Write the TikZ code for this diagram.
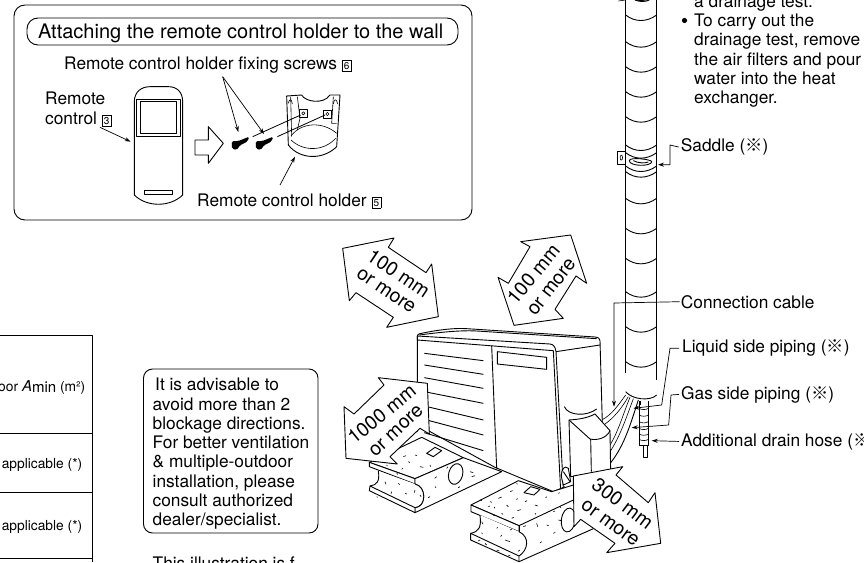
\documentclass[tikz,border=0pt]{standalone}
\usepackage{fontspec}
\setmainfont{TeX Gyre Heros}
\newfontfamily\cjkf{Noto Sans CJK JP}
\usetikzlibrary{arrows.meta}
\newcommand{\komeji}{{\cjkf ※}}
\newcommand{\boxnum}[1]{{\setlength{\fboxsep}{1.7pt}\setlength{\fboxrule}{0.4pt}\fbox{\fontsize{10}{10}\selectfont #1}}}
\tikzset{
  zm/.style 2 args={shift={(#1,#2)},x=0.33333pt,y=-0.33333pt},
  ln/.style={line width=0.9pt,black,line join=round},
  thin ln/.style={line width=0.6pt,black,line join=round},
  wfill/.style={ln,fill=white},
  lead/.style={line width=0.7pt,black,-{Stealth[length=6pt,width=4pt]}},
  lbl/.style={anchor=base west,inner sep=0pt,font=\fontsize{17.3}{19}\selectfont},
  big/.style={font=\fontsize{20}{21}\selectfont,anchor=base west,inner sep=0pt},
  tbl/.style={anchor=base east,inner sep=0pt,font=\fontsize{13.8}{15}\selectfont},
  clr/.style={inner sep=0pt,font=\fontsize{19.5}{20}\selectfont},
  box/.style={ln,rounded corners=#1},
  speck/.style={line width=0.6pt,black},
}
\begin{document}
\begin{tikzpicture}[x=1pt,y=-1pt]
\clip (0,0) rectangle (864,562);
\fill[white] (0,0) rectangle (864,562);

% ---- remote holder panel
\draw[box=11pt] (14,5) rectangle (472,220);
\draw[box=11pt] (27,18) rectangle (458,45);
\node[big] (title) at (38,38) {Attaching the remote control holder to the wall};
\node[lbl] (screwslbl) at (64,69) {Remote control holder fixing screws \boxnum{6}};
\node[lbl] (remlbl) at (45,104) {Remote};
\node[lbl] (remlblb) at (45,124) {control \boxnum{3}};
\node[lbl] (holdlbl) at (197,206) {Remote control holder \boxnum{5}};
\begin{scope}[zm={0}{0}]
  \draw[ln] (403,585) -- (403,305) .. controls (403,275) and (425,260) .. (450,260) -- (505,260) .. controls (530,260) and (548,275) .. (548,305) -- (548,585) .. controls (510,622) and (440,622) .. (403,585) -- cycle;
  \draw[ln] (410,297) rectangle (540,410);
  \draw[ln] (420,305) rectangle (530,400);
  \draw[thin ln] (433,570) rectangle (518,582);
  \draw[ln] (585,420) -- (625,420) -- (625,380) -- (670,430) -- (625,490) -- (625,465) -- (585,465) -- cycle;
  \coordinate (remA) at (300,382); \coordinate (remB) at (392,425);
  \coordinate (scrA) at (668,230); \coordinate (scrB) at (715,396); \coordinate (scrC) at (792,402);
  \coordinate (hA) at (840,555); \coordinate (hB) at (885,470);
  \draw[lead] (remA) -- (remB);
  \draw[lead] (scrA) -- (scrB);
  \draw[lead] (scrA) -- (scrC);
  \draw[lead] (hA) -- (hB);
\end{scope}
\begin{scope}[zm={190}{80}]
  % screws
  \fill[rounded corners=1.5pt] (125,184) -- (145,183) -- (178,170) -- (172,185) -- (150,196) -- (140,210) -- (126,206) -- cycle;
  \fill[rounded corners=1.5pt] (197,184) -- (217,183) -- (250,170) -- (244,185) -- (222,196) -- (212,210) -- (198,206) -- cycle;
  % holder
  \draw[ln] (295,195) -- (290,48) -- (335,45) .. controls (345,65) and (400,75) .. (420,45) -- (450,45) -- (440,200) .. controls (400,240) and (330,240) .. (295,195) -- cycle;
  \draw[thin ln] (303,180) .. controls (340,215) and (400,215) .. (437,175);
  \draw[thin ln] (303,168) .. controls (335,125) and (400,125) .. (440,160);
  \draw[thin ln] (302,50) -- (305,170);
  \draw[thin ln] (322,50) -- (330,115) -- (322,150);
  \draw[thin ln] (430,50) -- (425,130) -- (440,130);
  \draw[thin ln] (295,70) .. controls (298,55) and (305,55) .. (307,72);
  \draw[thin ln] (430,72) .. controls (432,55) and (440,55) .. (443,72);
  \draw[thin ln] (328,88) rectangle (352,112);
  \draw[thin ln] (400,90) rectangle (425,115);
  \draw[thin ln] (340,100) circle (1.6pt);
  \draw[thin ln] (412,102) circle (1.6pt);
  \coordinate (s1a) at (188,170); \coordinate (s1b) at (332,105);
  \coordinate (s2a) at (262,170); \coordinate (s2b) at (405,105);
  \draw[line width=0.8pt] (s1a) -- (s1b);
  \draw[line width=0.8pt] (s2a) -- (s2b);
\end{scope}

% ---- pipe
\begin{scope}[zm={590}{0}]
  \draw[thin ln] (107,0) -- (85,3);
  \draw[ln] (107,0) -- (107,1120);
  \draw[ln] (200,0) -- (200,1140);
  \foreach \y in {-15,45,125,200,275,350,435,458,498,515,595,685,775}
    \draw[ln] (107,\y) .. controls (135,\y+22) and (170,\y+22) .. (200,\y);
  \draw[ln] (135,0) .. controls (150,6) and (165,6) .. (178,0);
  \draw[ln] (82,453) rectangle (107,493);
  \draw[thin ln] (94,473) ellipse (1.2pt and 2.5pt);
  \draw[ln] (118,482) .. controls (118,470) and (185,478) .. (185,485) .. controls (185,500) and (118,500) .. (118,482) -- cycle;
  \draw[ln] (130,482) .. controls (145,490) and (165,490) .. (175,486);
\end{scope}
\begin{scope}[zm={590}{280}]
  \foreach \y in {35,140,245}
    \draw[ln] (107,\y) .. controls (135,\y+22) and (170,\y+22) .. (200,\y);
  \draw[ln] (107,335) .. controls (125,358) and (180,365) .. (200,345);
  % bundle of pipes
  \draw[thin ln] (107,345) .. controls (85,375) and (65,405) .. (35,420);
  \draw[thin ln] (115,350) .. controls (95,385) and (70,415) .. (45,432);
  \draw[thin ln] (120,352) .. controls (100,400) and (85,455) .. (60,495);
  \draw[thin ln] (130,356) .. controls (110,410) and (90,470) .. (60,515);
  \draw[ln] (145,360) .. controls (125,420) and (105,495) .. (62,548);
  % drain hose
  \draw[ln] (147,362) -- (147,497) -- (175,497) -- (175,362);
  \draw[ln] (152,362) -- (152,375);
  \draw[ln] (160,497) rectangle (172,532);
  \foreach \y in {385,405,425,445,462,478}
    \draw[thin ln] (147,\y) .. controls (155,\y+5) and (168,\y+5) .. (175,\y);
\end{scope}

% ---- unit
\begin{scope}[zm={320}{210}]
  \fill[white] (292,378) .. controls (292,374) and (295,372) .. (300,371) .. controls (340,362) and (400,353) .. (440,356) -- (825,381) .. controls (835,382) and (840,386) .. (840,392) -- (847,640) -- (870,830) -- (700,845) -- (525,772) -- (325,662) -- (292,665) -- cycle;
  \draw[ln] (292,665) -- (292,378) .. controls (292,374) and (295,372) .. (300,371) .. controls (340,362) and (400,353) .. (440,356) -- (825,381) .. controls (835,382) and (840,386) .. (840,392) -- (847,640);
  \draw[ln] (298,375) .. controls (350,368) and (420,360) .. (470,363) -- (830,386);
  \draw[ln] (292,378) -- (292,390) -- (700,422);
  \draw[ln] (292,378) -- (690,402) .. controls (700,403) and (706,410) .. (708,425) -- (730,835);
  \draw[ln] (700,422) -- (722,842);
  \draw[ln] (708,425) -- (840,405);
  \draw[ln] (515,407) -- (530,775);
  \draw[ln] (532,425) -- (680,442) -- (680,478) -- (532,462) -- cycle;
  \foreach \a/\b/\c/\d in {313/430/490/452,313/465/490/493,313/503/490/535,313/545/490/580,313/588/490/630,313/628/490/675,313/668/490/722}
    \draw[ln] (\a,\b) -- (\c,\d);
  % base line
  \draw[ln] (325,662) -- (525,772) -- (700,845) -- (735,830);
  % cover
  \draw[ln] (733,590) .. controls (745,618) and (800,620) .. (830,597);
  \draw[wfill] (747,630) .. controls (775,628) and (800,625) .. (825,612) -- (870,662) -- (872,790) -- (752,800) -- cycle;
  \draw[ln] (747,630) -- (810,687) .. controls (830,692) and (860,685) .. (870,662);
  \draw[ln] (812,687) -- (814,785);
  \draw[wfill] (724,800) .. controls (724,775) and (735,765) .. (745,775) -- (752,815) -- (730,825) -- cycle;
  \draw[ln] (730,785) -- (750,815);
  % left foot
  \draw[wfill] (148,757) -- (305,682) -- (430,743) -- (285,806) -- cycle;
  \draw[wfill] (148,757) -- (148,770) -- (285,822) -- (285,806) -- cycle;
  \draw[wfill] (285,822) -- (285,806) -- (430,743) -- (545,785) -- (285,908) -- (285,893) .. controls (320,890) and (320,830) .. (285,822) -- cycle;
  \fill[white] (175,783) -- (285,822) .. controls (320,830) and (320,890) .. (285,893) -- (150,828) .. controls (170,825) and (180,815) .. (175,783) -- cycle;
  \draw[ln] (175,783) .. controls (180,815) and (170,825) .. (150,828);
  \draw[ln] (285,822) .. controls (320,830) and (320,890) .. (285,893);
  \draw[wfill] (150,828) -- (148,842) -- (285,908) -- (285,893) -- cycle;
  \draw[ln] (407,792) ellipse [x radius=7pt,y radius=10.5pt,rotate=-15];
  \draw[ln] (320,730) -- (345,712) -- (365,722) -- (340,740) -- cycle;
  \foreach \a/\b/\c/\d in {250/740/8/-3, 265/755/5/3, 300/770/10/2, 245/778/4/-4, 330/765/2/5, 285/735/6/2, 350/800/-6/5, 380/775/4/-5, 330/860/-6/3, 300/855/3/5, 455/800/10/-3, 450/785/10/3, 420/830/-6/3, 195/815/3/8, 215/845/-2/6, 255/850/6/2, 170/860/3/2, 235/820/4/4, 285/840/-2/8, 345/830/3/3, 230/790/3/3, 200/765/2/3}
    \draw[speck] (\a,\b) -- ++(\c,\d);
\end{scope}
% ---- right foot
\begin{scope}[zm={440}{450}]
  \draw[wfill] (93,165) -- (235,92) -- (335,125) -- (400,105) -- (440,190) -- (237,300) -- (237,227) -- cycle;
  \draw[wfill] (93,165) -- (93,185) -- (237,245) -- (237,227) -- cycle;
  \fill[white] (120,195) -- (237,245) .. controls (270,260) and (265,300) .. (237,318) -- (92,250) .. controls (115,245) and (125,235) .. (120,195) -- cycle;
  \draw[ln] (120,195) .. controls (125,235) and (115,245) .. (92,250);
  \draw[ln] (237,245) .. controls (270,260) and (265,300) .. (237,318);
  \fill[white] (237,227) -- (400,150) -- (460,230) -- (237,335) -- cycle;
  \draw[ln] (237,227) -- (400,150);
  \draw[ln] (237,245) .. controls (270,260) and (265,300) .. (237,318);
  \draw[ln] (237,227) -- (237,245);
  \draw[wfill] (92,250) -- (92,270) -- (237,335) -- (237,318) -- cycle;
  \draw[ln] (237,335) -- (460,236);
  \draw[ln] (385,210) ellipse [x radius=7pt,y radius=12pt,rotate=-8];
  \draw[ln] (252,128) -- (272,110) -- (300,118) -- (282,135) -- cycle;
  \foreach \a/\b/\c/\d in {120/150/6/2,175/145/10/-4,210/125/8/-3,230/100/2/3,150/155/6/2,145/170/5/-2,165/175/-3/-4,200/165/5/5,230/150/2/-5,255/155/6/-3,285/165/8/3,232/182/10/-3,185/190/4/3,160/195/4/2,215/205/6/-3,285/190/3/3,320/140/-3/3,355/130/4/-2,340/185/5/-2,360/170/3/3,290/220/3/10,250/230/8/-3,320/225/6/2,305/275/-5/4,355/210/8/2,340/250/6/-3,125/215/4/8,125/248/2/4,170/235/3/-3,185/255/-3/5,195/270/15/5,120/270/-6/3,135/280/5/5,170/300/8/3,205/315/6/3,240/300/-6/4,210/240/6/-3}
    \draw[speck] (\a,\b) -- ++(\c,\d);
\end{scope}

% ---- clearance arrows
\begin{scope}[zm={320}{210}]
  \draw[wfill] (68,115) -- (222,84) -- (205,112) -- (318,188) -- (335,162) -- (355,320) -- (200,352) -- (220,322) -- (108,248) -- (88,272) -- cycle;
  \node[clr,rotate=-34] (c1a) at (236,190) {100 mm};
  \node[clr,rotate=-34] (c1b) at (198,243) {or more};
  \draw[wfill] (602,95) -- (752,75) -- (800,220) -- (768,198) -- (705,298) -- (730,325) -- (582,346) -- (534,202) -- (565,220) -- (630,110) -- cycle;
  \node[clr,rotate=50] (c2a) at (640,192) {100 mm};
  \node[clr,rotate=52] (c2b) at (696,232) {or more};
  \draw[wfill] (175,503) -- (322,520) -- (328,672) -- (300,655) -- (210,740) -- (232,762) -- (78,745) -- (72,590) -- (102,612) -- (192,525) -- cycle;
  \node[clr,rotate=39] (c3a) at (185,612) {1000 mm};
  \node[clr,rotate=43] (c3b) at (229,663) {or more};
  \draw[wfill] (760,798) -- (908,770) -- (888,795) -- (985,878) -- (1005,848) -- (1022,1000) -- (860,1028) -- (885,1000) -- (782,928) -- (762,950) -- cycle;
  \node[clr,rotate=-37] (c4a) at (908,880) {300 mm};
  \node[clr,rotate=-36] (c4b) at (870,940) {or more};
\end{scope}

% ---- right labels and text
\node[lbl] (t0) at (694,7) {a drainage test.};
\node[lbl] (t1) at (694,26) {To carry out the};
\node[lbl] (t2) at (694,45.3) {drainage test, remove};
\node[lbl] (t3) at (694,65) {the air filters and pour};
\node[lbl] (t4) at (694,84.3) {water into the heat};
\node[lbl] (t5) at (694,103.3) {exchanger.};
\fill (684.5,20.5) circle (2.6pt);
\node[lbl] (saddle) at (680.7,151.7) {Saddle (\komeji)};
\node[lbl] (conn) at (680.7,308) {Connection cable};
\node[lbl] (liq) at (682,352.7) {Liquid side piping (\komeji)};
\node[lbl] (gas) at (681,399) {Gas side piping (\komeji)};
\node[lbl] (drain) at (681,446) {Additional drain hose (\komeji};
\begin{scope}[zm={590}{0}]
  \coordinate (sadA) at (240,435); \coordinate (sadB) at (240,494); \coordinate (sadC) at (204,494);
\end{scope}
\begin{scope}[zm={590}{280}]
  \coordinate (conA) at (72,69); \coordinate (conB) at (72,380);
  \coordinate (liqA) at (240,205); \coordinate (liqB) at (215,375); \coordinate (liqC) at (130,385);
  \coordinate (gasA) at (243,345); \coordinate (gasB) at (236,435); \coordinate (gasC) at (125,443);
  \coordinate (drnC) at (185,482);
\end{scope}
\draw[lead] (saddle.west) ++(-2,0) -- (sadA) -- (sadB) -- (sadC);
\draw[lead] (conn.west) ++(-1,0) -- (conA) -- (conB);
\draw[lead] (liq.west) ++(-3,0) -- (liqA) -- (liqB) -- (liqC);
\draw[lead] (gas.west) ++(-2,0) -- (gasA) -- (gasB) -- (gasC);
\draw[lead] (drain.west) ++(-2,0) -- (drnC);

% ---- table fragment
\draw[ln] (0,335) -- (92.7,335) -- (92.7,562);
\draw[ln] (0,433) -- (92.7,433);
\draw[ln] (0,492) -- (92.7,492);
\draw[ln] (0,558) -- (92.7,558);
\node[tbl] (amin) at (85.5,391) {oor {\fontsize{15}{15}\selectfont\textit{A}\raisebox{-1.5pt}{min}} (m²)};
\node[tbl] (ap1) at (82.5,468) {applicable (*)};
\node[tbl] (ap2) at (82.5,530) {applicable (*)};

% ---- advice box
\draw[box=9pt] (143.5,369) rectangle (318,533);
\node[lbl] (adv0) at (155,390.7) {It is advisable to};
\node[lbl] (adv1) at (152.5,410) {avoid more than 2};
\node[lbl] (adv2) at (152.5,429) {blockage directions.};
\node[lbl] (adv3) at (152.5,448) {For better ventilation};
\node[lbl] (adv4) at (152.5,467) {\& multiple-outdoor};
\node[lbl] (adv5) at (152.5,487) {installation, please};
\node[lbl] (adv6) at (152.5,506) {consult authorized};
\node[lbl] (adv7) at (152.5,525) {dealer/specialist.};
\node[lbl] (foot) at (152.5,569.5) {This illustration is f};
\end{tikzpicture}
\end{document}
